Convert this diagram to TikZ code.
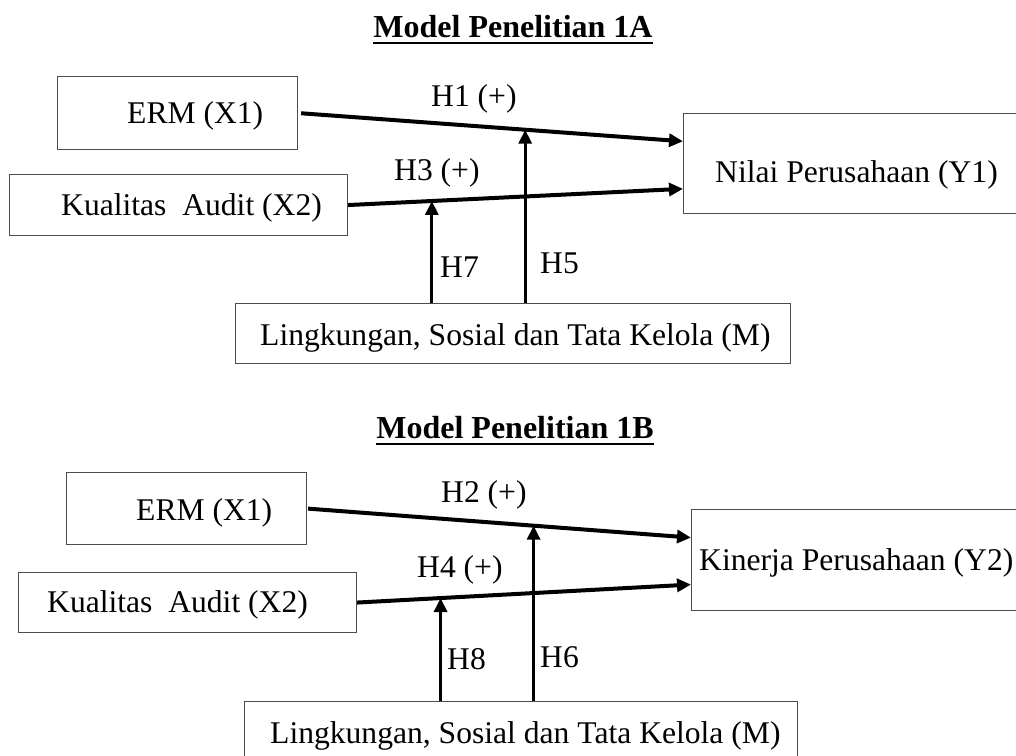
\documentclass[tikz,border=0pt]{standalone}
\usepackage{fontspec}
\setmainfont{Liberation Serif}
\usepackage{tikz}
\usetikzlibrary{arrows.meta,calc}

\begin{document}
\begin{tikzpicture}[x=1pt,y=-1pt]
	\tikzset{
		box/.style={draw=black!70,line width=1.1pt,inner sep=0,anchor=north west},
		lbl/.style={inner sep=0,anchor=base west,font=\fontsize{31.6}{38}\selectfont},
		ttl/.style={inner sep=0,anchor=base,font=\fontsize{32}{38}\selectfont\bfseries},
		hline/.style={line width=4pt,-{Triangle[length=14pt,width=13pt]}},
		vline/.style={line width=3.3pt,-{Triangle[length=14pt,width=13pt]}}}
	\useasboundingbox (0,0) rectangle (1016,755);
	\clip (0,0) rectangle (1016,755);
	% Model 1A
	\node[ttl](ta) at (513,37){Model Penelitian 1A};
	\draw[line width=2.7pt]([yshift=-6pt]ta.base west)--([yshift=-6pt]ta.base east);
	\node[box,minimum width=240pt,minimum height=73pt](xa) at (57,76){};
	\node[box,minimum width=338pt,minimum height=61pt](ka) at (9,174){};
	\node[box,minimum width=360pt,minimum height=100pt](ya) at (683,113){};
	\node[box,minimum width=555pt,minimum height=60pt](ma) at (235,303){};
	\node[lbl](xat) at (127,123){ERM (X1)};
	\node[lbl](kat) at (61,215){Kualitas~~Audit (X2)};
	\node[lbl](yat) at (715,182){Nilai Perusahaan (Y1)};
	\node[lbl](mat) at (260,345){Lingkungan, Sosial dan Tata Kelola (M)};
	\draw[hline,shorten <=3pt](xa.east)--($(ya.north west)!0.28!(ya.south west)$)
		coordinate[pos=0.59](h5a);
	\draw[hline](ka.east)--($(ya.north west)!0.75!(ya.south west)$)
		coordinate[pos=0.25](h7a);
	\draw[vline](ma.north -| h5a)--(h5a);
	\draw[vline](ma.north -| h7a)--(h7a);
	\node[lbl](h1a) at (431,106){H1 (+)};
	\node[lbl](h3a) at (394,180){H3 (+)};
	\node[lbl](h7l) at (440,277){H7};
	\node[lbl](h5l) at (540,273){H5};
	% Model 1B
	\node[ttl](tb) at (515,438){Model Penelitian 1B};
	\draw[line width=2.7pt]([yshift=-6pt]tb.base west)--([yshift=-6pt]tb.base east);
	\node[box,minimum width=240pt,minimum height=72pt](xb) at (66,472){};
	\node[box,minimum width=338pt,minimum height=60pt](kb) at (18,572){};
	\node[box,minimum width=360pt,minimum height=101pt](yb) at (691,509){};
	\node[box,minimum width=553pt,minimum height=62pt](mb) at (244,701){};
	\node[lbl](xbt) at (136,520){ERM (X1)};
	\node[lbl](kbt) at (47,612){Kualitas~~Audit (X2)};
	\node[lbl](ybt) at (699,570){Kinerja Perusahaan (Y2)};
	\node[lbl](mbt) at (270,743){Lingkungan, Sosial dan Tata Kelola (M)};
	\draw[hline,shorten <=1pt](xb.east)--($(yb.north west)!0.28!(yb.south west)$)
		coordinate[pos=0.59](h6b);
	\draw[hline](kb.east)--($(yb.north west)!0.74!(yb.south west)$)
		coordinate[pos=0.25](h8b);
	\draw[vline](mb.north -| h6b)--(h6b);
	\draw[vline](mb.north -| h8b)--(h8b);
	\node[lbl](h2b) at (441,502){H2 (+)};
	\node[lbl](h4b) at (417,577){H4 (+)};
	\node[lbl](h8l) at (447,669){H8};
	\node[lbl](h6l) at (540,667){H6};
\end{tikzpicture}
\end{document}
